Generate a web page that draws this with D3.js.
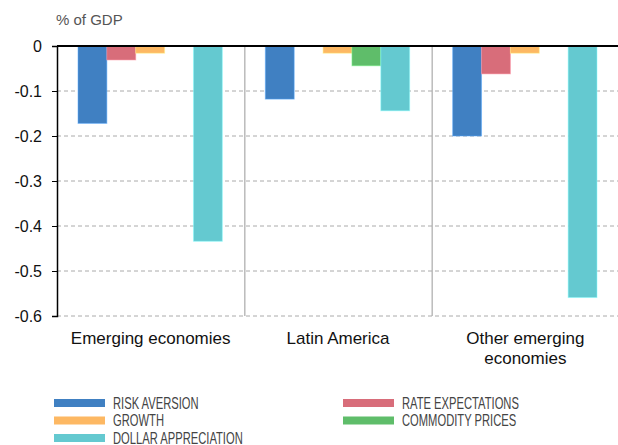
<!DOCTYPE html>
<html>
<head>
<meta charset="utf-8">
<script src="https://cdn.jsdelivr.net/npm/d3@7"></script>
<style>
  body { margin: 0; background: #fff; }
  svg { display: block; font-family: "Liberation Sans", Arial, sans-serif; }
</style>
</head>
<body>
<svg id="chart" width="618" height="445"></svg>
<script>
// data
const categories = [["Emerging economies"], ["Latin America"], ["Other emerging", "economies"]];
const seriesNames = ["RISK AVERSION", "RATE EXPECTATIONS", "GROWTH", "COMMODITY PRICES", "DOLLAR APPRECIATION"];
const seriesColors = ["#4080c2", "#d86d7a", "#fdb863", "#5fbd6a", "#64c9d0"];
const riskAversion = [-0.172, -0.118, -0.200];
const rateExpectations = [-0.031, -0.001, -0.062];
const growth = [-0.016, -0.016, -0.016];
const commodityPrices = [-0.001, -0.044, -0.001];
const dollarAppreciation = [-0.434, -0.144, -0.559];
const yTicks = [0, -0.1, -0.2, -0.3, -0.4, -0.5, -0.6];

const series = [riskAversion, rateExpectations, growth, commodityPrices, dollarAppreciation];

const svg = d3.select("#chart");
const pLeft = 57, pRight = 619, pTop = 46, pBottom = 316;

let x0 = d3.scaleBand().domain(d3.range(categories.length)).range([pLeft, pRight]);
let x1 = d3.scaleBand().domain(d3.range(series.length)).range([21, x0.bandwidth() - 22]);
let y = d3.scaleLinear().domain([0, -0.6]).range([pTop, pBottom]);

// gridlines
svg.append("g").selectAll("line").data(yTicks.slice(1)).enter().append("line")
  .attr("x1", pLeft).attr("x2", pRight)
  .attr("y1", d => y(d)).attr("y2", d => y(d))
  .attr("stroke", "#aaa").attr("stroke-dasharray", "4,3").attr("stroke-width", 1);

// group separators
svg.append("g").selectAll("line").data(d3.range(1, categories.length)).enter().append("line")
  .attr("x1", d => x0(d) + 0.5).attr("x2", d => x0(d) + 0.5)
  .attr("y1", pTop).attr("y2", pBottom)
  .attr("stroke", "#aaa").attr("stroke-width", 1.2);

// bars
let g = svg.append("g");
series.forEach(function (vals, si) {
  g.selectAll(null).data(vals).enter().append("rect")
    .attr("x", (d, i) => x0(i) + x1(si))
    .attr("width", x1.bandwidth())
    .attr("y", y(0))
    .attr("height", d => y(d) - y(0))
    .attr("fill", seriesColors[si])
    .attr("stroke", d3.color(seriesColors[si]).brighter(0.8))
    .attr("stroke-opacity", 0.5)
    .attr("stroke-width", 1);
});

// y axis
let yAxis = d3.axisLeft(y).tickValues(yTicks).tickSize(5).tickPadding(10)
  .tickFormat(d => d === 0 ? "0" : d3.format(".1f")(d).replace("−", "-"));
let ya = svg.append("g").attr("transform", `translate(${pLeft},0)`).call(yAxis);
ya.select(".domain").attr("stroke", "#000").attr("stroke-width", 1.5);
ya.selectAll(".tick line").attr("stroke", "#000");
ya.selectAll(".tick text").attr("font-size", 16).attr("fill", "#111")
  .attr("font-family", "Liberation Sans, Arial, sans-serif");
ya.selectAll(".tick").filter(d => d === 0).select("line").remove();

// zero line
svg.append("line").attr("x1", pLeft).attr("x2", pRight)
  .attr("y1", y(0)).attr("y2", y(0)).attr("stroke", "#000").attr("stroke-width", 2);

// unit label
svg.append("text").attr("x", pLeft - 1).attr("y", 25)
  .attr("font-size", 15).attr("fill", "#555").text("% of GDP");

// category labels
categories.forEach(function (lines, i) {
  let t = svg.append("text").attr("text-anchor", "middle")
    .attr("x", x0(i) + x0.bandwidth() / 2).attr("y", 344)
    .attr("font-size", 17).attr("fill", "#111");
  lines.forEach(function (ln, k) {
    t.append("tspan").attr("x", x0(i) + x0.bandwidth() / 2).attr("dy", k ? 20 : 0).text(ln);
  });
});

// legend (condensed caps)
const legendPos = [[54, 403], [343, 403], [54, 420.5], [343, 420.5], [54, 438]];
let lg = svg.append("g");
seriesNames.forEach(function (name, si) {
  let [lx, ly] = legendPos[si];
  lg.append("rect").attr("x", lx).attr("y", ly - 4).attr("width", 51).attr("height", 8)
    .attr("fill", seriesColors[si]);
  lg.append("text").attr("transform", `translate(${lx + 59},${ly + 5.5}) scale(0.7,1)`)
    .attr("font-size", 16).attr("fill", "#444").text(name);
});
</script>
</body>
</html>
